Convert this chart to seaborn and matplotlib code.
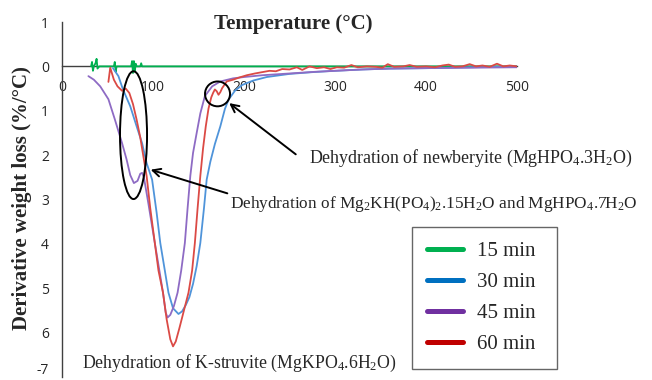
import numpy as np
import pandas as pd
import seaborn as sns
import matplotlib
matplotlib.use("Agg")
import matplotlib.pyplot as plt
import matplotlib.transforms as mtransforms
from matplotlib.patches import Ellipse
from matplotlib.lines import Line2D

# DTG curves (temperature in C, derivative weight loss)
temp_15 = [32, 33, 34, 35, 37, 38, 39, 41, 57, 58, 59, 60, 76, 77, 78, 79, 80, 81, 82, 86, 87, 88, 500]
dtg_15 = [0, 0.1, -0.1, 0, 0.08, 0.17, -0.05, 0, 0, 0.1, -0.12, 0, 0, 0.12, -0.15, 0.12, -0.12, 0.06, 0, 0, 0.07, 0, 0]

temp_30 = [56, 62, 67, 75, 82, 88, 93, 99, 104, 108,
           113, 117, 122, 128, 132, 136, 140, 144, 148, 152,
           156, 159, 163, 168, 174, 179, 183, 190, 198, 210,
           225, 250, 275, 300, 330, 360, 400, 450, 500]
dtg_30 = [-0.04, -0.22, -0.52, -0.9, -1.35, -1.73, -2.18, -2.55, -3.3, -3.98,
          -4.6, -5.1, -5.45, -5.58, -5.52, -5.38, -5.2, -4.9, -4.5, -3.98,
          -3.2, -2.55, -2.15, -1.75, -1.35, -0.96, -0.75, -0.55, -0.42, -0.32,
          -0.24, -0.17, -0.13, -0.1, -0.07, -0.05, -0.04, -0.02, 0.0]

temp_45 = [29, 35, 42, 51, 58, 66, 71, 75, 79, 83,
           86, 88, 90, 95, 102, 107, 111, 114, 116, 119,
           123, 127, 131, 135, 138, 141, 144, 148, 152, 157,
           165, 174, 188, 200, 220, 250, 280, 300, 330, 360,
           400, 450, 500]
dtg_45 = [-0.22, -0.3, -0.45, -0.74, -1.19, -1.73, -2.1, -2.45, -2.63, -2.58,
          -2.42, -2.4, -2.5, -3.1, -3.98, -4.6, -5.1, -5.55, -5.66, -5.6,
          -5.4, -5.1, -4.6, -3.98, -3.2, -2.47, -1.95, -1.5, -1.06, -0.67,
          -0.45, -0.34, -0.27, -0.24, -0.2, -0.16, -0.12, -0.1, -0.07, -0.05,
          -0.04, -0.03, -0.02]

temp_60 = [51, 53, 57, 61, 66, 70, 74, 78, 82, 86,
           90, 93, 97, 102, 106, 111, 115, 119, 122, 125,
           129, 134, 139, 143, 146, 149, 152, 155, 158, 161,
           164, 166, 168, 170, 172, 174, 176, 179, 181, 188,
           195, 203, 212, 220, 228, 235, 242, 250, 258, 264,
           272, 280, 288, 295, 302, 310, 318, 325, 335, 345,
           352, 358, 365, 375, 382, 390, 400, 410, 418, 425,
           432, 440, 448, 455, 462, 470, 478, 485, 492, 500]
dtg_60 = [-0.35, -0.03, -0.3, -0.45, -0.55, -0.5, -0.6, -0.85, -1.2, -1.6,
          -2.1, -2.47, -3.2, -3.98, -4.6, -5.1, -5.7, -6.15, -6.31, -6.2,
          -5.9, -5.5, -5.1, -4.6, -3.98, -3.2, -2.47, -1.85, -1.35, -0.95,
          -0.7, -0.6, -0.52, -0.56, -0.64, -0.58, -0.49, -0.4, -0.34, -0.3,
          -0.25, -0.2, -0.16, -0.13, -0.1, -0.11, -0.06, -0.07, -0.02, -0.08,
          0.0, -0.04, -0.02, -0.06, -0.02, -0.03, 0.03, -0.02, 0.0, -0.01,
          -0.03, 0.05, -0.01, 0.0, 0.03, -0.01, 0.0, -0.02, 0.02, 0.04,
          -0.01, 0.0, 0.05, 0.0, 0.02, -0.01, 0.06, 0.0, 0.02, 0.0]

series_names = ["15 min", "30 min", "45 min", "60 min"]
line_colors = ["#00B050", "#4F94DA", "#8E6BC4", "#DB4A45"]
legend_colors = ["#00B050", "#0070C0", "#7030A0", "#C00000"]

xticks = [0, 100, 200, 300, 400, 500]
yticks = [1, 0, -1, -2, -3, -4, -5, -6, -7]
ytick_labels = ["1", "0", "1", "2", "3", "4", "5", "6", "-7"]

frames = []
for name, t, d in zip(series_names, [temp_15, temp_30, temp_45, temp_60],
                      [dtg_15, dtg_30, dtg_45, dtg_60]):
    frames.append(pd.DataFrame({"temp": t, "dtg": d, "series": name}))
df = pd.concat(frames, ignore_index=True)

sns.set_style("white")
plt.rcParams["font.family"] = ["Liberation Serif", "DejaVu Serif"]
plt.rcParams["mathtext.fontset"] = "custom"
plt.rcParams["mathtext.rm"] = "Liberation Serif"
plt.rcParams["mathtext.default"] = "regular"

fig = plt.figure(figsize=(6.52, 3.8), dpi=100)
ax = fig.add_axes([62 / 652, 3 / 380, 455 / 652, 355 / 380])

sns.lineplot(data=df, x="temp", y="dtg", hue="series", hue_order=series_names,
             palette=dict(zip(series_names, line_colors)), sort=False,
             estimator=None, legend=False, linewidth=1.3, ax=ax, zorder=3)

ax.set_xlim(0, 500)
ax.set_ylim(-7, 1)
ax.set_xlabel("")
ax.set_ylabel("")
ax.spines["top"].set_visible(False)
ax.spines["right"].set_visible(False)
ax.spines["bottom"].set_position(("data", 0))
for s in ["left", "bottom"]:
    ax.spines[s].set_color("#404040")
    ax.spines[s].set_linewidth(1.0)
    ax.spines[s].set_zorder(2)

ax.set_xticks(xticks)
ax.set_xticklabels([str(v) for v in xticks], fontfamily="Open Sans", fontsize=10)
ax.set_yticks(yticks)
ax.set_yticklabels(ytick_labels, fontfamily="Open Sans", fontsize=10)
ax.tick_params(axis="x", direction="out", length=3, width=1, color="#404040", pad=7)
ax.tick_params(axis="y", direction="out", length=3.5, width=1, color="#404040", pad=6)

# keep the bottom "-7" label inside the canvas
last = ax.get_yticklabels()[-1]
last.set_transform(last.get_transform() +
                   mtransforms.ScaledTranslation(0, 8 / 100, fig.dpi_scale_trans))

# annotations
ax.add_patch(Ellipse((78.6, -1.55), 29.7, 2.88, fill=False, ec="black", lw=1.4, zorder=4))
ax.add_patch(Ellipse((170.9, -0.62), 27.5, 0.56, fill=False, ec="black", lw=1.4, zorder=4))

arrow = dict(arrowstyle="->", color="black", lw=1.4, mutation_scale=14)
ax.annotate("", xy=(181.3, -0.79), xytext=(259.3, -2.02), arrowprops=arrow)
ax.annotate("", xy=(94.5, -2.31), xytext=(184.6, -2.88), arrowprops=arrow)

ax.text(271.4, -2.07, r"Dehydration of newberyite (MgHPO$_4$.3H$_2$O)",
        fontsize=12.9, ha="left", va="center", clip_on=False)
ax.text(184.6, -3.1, r"Dehydration of Mg$_2$KH(PO$_4$)$_2$.15H$_2$O and MgHPO$_4$.7H$_2$O",
        fontsize=12.4, ha="left", va="center", clip_on=False)
ax.text(22, -6.70, r"Dehydration of K-struvite (MgKPO$_4$.6H$_2$O)",
        fontsize=12.8, ha="left", va="center", clip_on=False)

fig.text(293 / 652, 1 - 24 / 380, "Temperature (°C)", fontsize=15,
         fontweight="bold", ha="center", va="center")
fig.text(22 / 652, 1 - 198 / 380, "Derivative weight loss (%/°C)", fontsize=15,
         fontweight="bold", ha="center", va="center", rotation=90)

handles = [Line2D([0], [0], color=c, lw=3.6) for c in legend_colors]
leg = fig.legend(handles, series_names, loc="upper left",
                 bbox_to_anchor=(412 / 652, 1 - 227 / 380, 145 / 652, 0.0),
                 bbox_transform=fig.transFigure, mode="expand",
                 fontsize=15, frameon=True, fancybox=False, borderaxespad=0,
                 borderpad=0.7, labelspacing=0.55, handlelength=1.75,
                 handletextpad=0.65)
leg.get_frame().set_edgecolor("#404040")
leg.get_frame().set_linewidth(1.0)

fig.savefig("out.png", dpi=100)
